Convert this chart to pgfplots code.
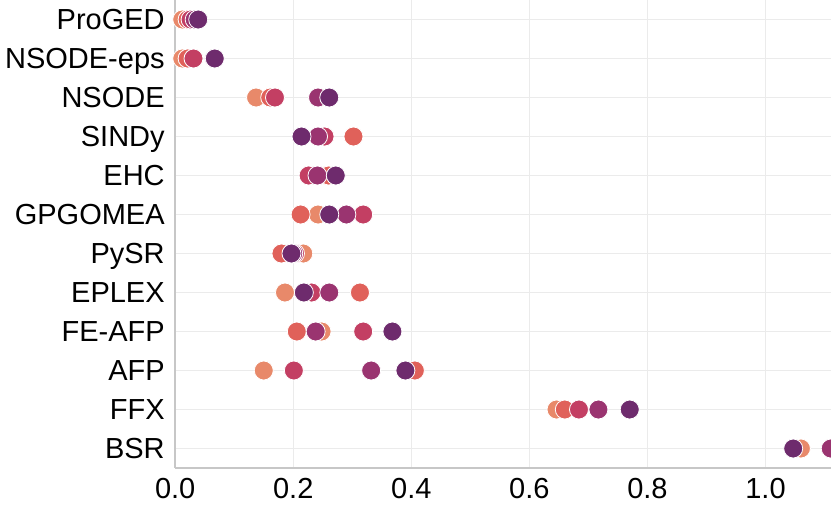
\documentclass[border=0pt]{standalone}
\usepackage{fontspec}
\setmainfont{Liberation Sans}
\usepackage{pgfplots}
\pgfplotsset{compat=1.18}
\definecolor{cA}{HTML}{E8896A}
\definecolor{cB}{HTML}{E0615A}
\definecolor{cC}{HTML}{C33F63}
\definecolor{cD}{HTML}{9A3470}
\definecolor{cE}{HTML}{6E2B6D}
\begin{document}
\begin{tikzpicture}
\begin{axis}[
  scale only axis, width=655.8pt, height=468pt,
  xmin=0, xmax=1.111, ymin=-0.5, ymax=11.5, y dir=reverse,
  ytick={0,...,11},
  yticklabels={ProGED,NSODE-eps,NSODE,SINDy,EHC,GPGOMEA,PySR,EPLEX,FE-AFP,AFP,FFX,BSR},
  xtick={0,0.2,0.4,0.6,0.8,1.0},
  xticklabel style={yshift=-7pt, /pgf/number format/.cd, fixed, fixed zerofill, precision=1},
  yticklabel style={anchor=base east, xshift=-7pt, yshift=-10.4pt},
  /pgf/number format/assume math mode=true,
  tick label style={font=\fontsize{29}{33}\selectfont},
  major tick length=0pt,
  grid=major, grid style={color=black!8, line width=1.2pt},
  axis x line*=bottom, axis y line*=left,
  axis line style={-, color=black!22, line width=1.5pt},
  every axis plot/.append style={only marks, mark=*, mark size=9.5pt},
  clip=true,
]
\addplot[mark options={fill=cA, draw=white, line width=0.8pt}] coordinates {
(0.012,0) (0.012,1) (0.137,2) (0.245,3) (0.258,4) (0.242,5) (0.217,6) (0.186,7) (0.248,8) (0.150,9) (0.646,10) (1.060,11)};
\addplot[mark options={fill=cB, draw=white, line width=0.8pt}] coordinates {
(0.021,0) (0.021,1) (0.161,2) (0.302,3) (0.260,4) (0.2125,5) (0.180,6) (0.313,7) (0.206,8) (0.406,9) (0.660,10) (1.20,11)};
\addplot[mark options={fill=cC, draw=white, line width=0.8pt}] coordinates {
(0.026,0) (0.031,1) (0.169,2) (0.253,3) (0.226,4) (0.3185,5) (0.203,6) (0.231,7) (0.3185,8) (0.201,9) (0.684,10) (1.30,11)};
\addplot[mark options={fill=cD, draw=white, line width=0.8pt}] coordinates {
(0.033,0) (0.066,1) (0.242,2) (0.242,3) (0.241,4) (0.290,5) (0.200,6) (0.261,7) (0.238,8) (0.332,9) (0.717,10) (1.1105,11)};
\addplot[mark options={fill=cE, draw=white, line width=0.8pt}] coordinates {
(0.039,0) (0.067,1) (0.261,2) (0.214,3) (0.272,4) (0.261,5) (0.197,6) (0.218,7) (0.368,8) (0.390,9) (0.770,10) (1.047,11)};
\end{axis}
\pgfresetboundingbox
\path ([xshift=-175.2pt,yshift=-39pt]current axis.south west) rectangle (current axis.north east);
\end{tikzpicture}
\end{document}
